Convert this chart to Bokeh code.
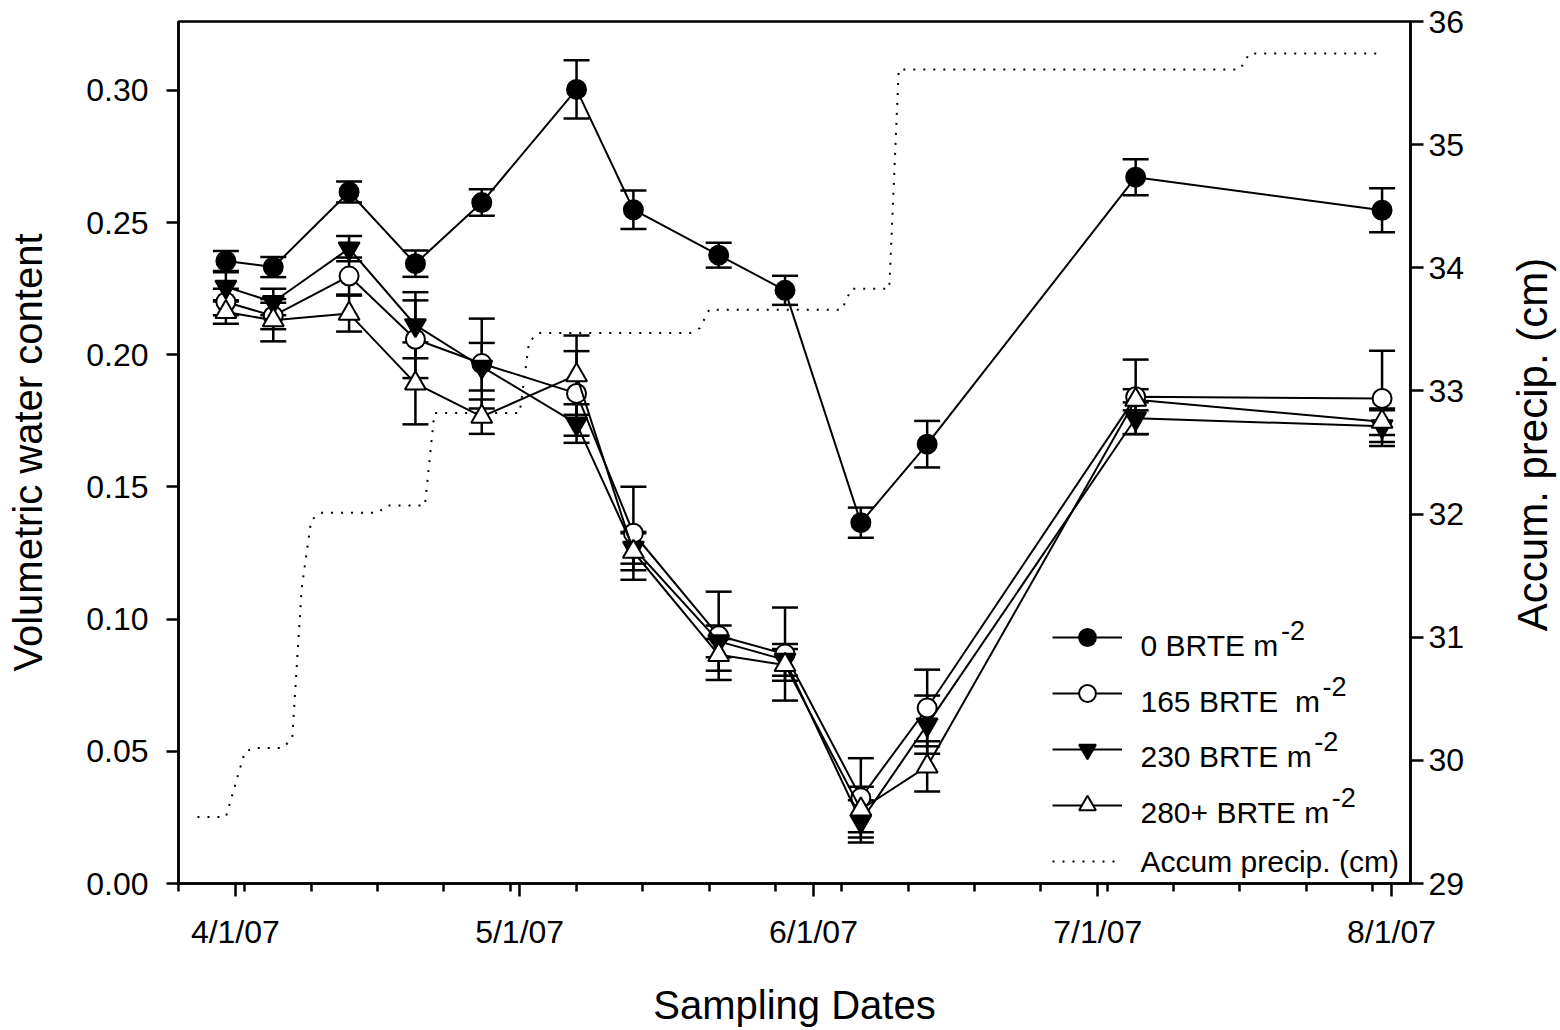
import math
import pandas as pd
from bokeh.plotting import figure
from bokeh.layouts import row
from bokeh.models import (ColumnDataSource, Range1d, LinearAxis, FixedTicker, Whisker, TeeHead,
                          Legend, LegendItem, Label, CustomJSTickFormatter, NumeralTickFormatter)
from bokeh.core.properties import value
from bokeh.embed import file_html
from bokeh.resources import INLINE

FONT = "Liberation Sans"

# ---------------- data ----------------
sample_dates = ["2007-03-31", "2007-04-05", "2007-04-13", "2007-04-20", "2007-04-27", "2007-05-07",
                "2007-05-13", "2007-05-22", "2007-05-29", "2007-06-06", "2007-06-13", "2007-07-05",
                "2007-07-31"]

vwc_0 = [0.2355, 0.2332, 0.2616, 0.2345, 0.2576, 0.3004, 0.2549, 0.2377, 0.2244, 0.1365, 0.1662, 0.2672, 0.2547]
err_0 = [0.0038, 0.0038, 0.0040, 0.0050, 0.0050, 0.0110, 0.0073, 0.0047, 0.0055, 0.0057, 0.0088, 0.0068, 0.0083]

vwc_165 = [0.2200, 0.2147, 0.2298, 0.2059, 0.1967, 0.1854, 0.1325, 0.0937, 0.0868, 0.0324, 0.0664, 0.1841, 0.1835]
err_165 = [0.0050, 0.0050, 0.0070, 0.0147, 0.0170, 0.0160, 0.0176, 0.0167, 0.0176, 0.0150, 0.0145, 0.0141, 0.0180]

vwc_230 = [0.2257, 0.2200, 0.2402, 0.2112, 0.1955, 0.1740, 0.1270, 0.0916, 0.0846, 0.0235, 0.0601, 0.1760, 0.1730]
err_230 = [0.0055, 0.0050, 0.0048, 0.0125, 0.0090, 0.0073, 0.0060, 0.0060, 0.0060, 0.0080, 0.0110, 0.0060, 0.0060]

vwc_280 = [0.2162, 0.2131, 0.2156, 0.1892, 0.1766, 0.1923, 0.1255, 0.0865, 0.0827, 0.0280, 0.0443, 0.1830, 0.1747]
err_280 = [0.0044, 0.0080, 0.0068, 0.0155, 0.0065, 0.0150, 0.0070, 0.0060, 0.0060, 0.0086, 0.0095, 0.0040, 0.0050]

precip_dates = ["2007-03-28", "2007-03-31", "2007-04-02", "2007-04-03", "2007-04-06", "2007-04-07",
                "2007-04-08", "2007-04-09", "2007-04-10", "2007-04-16", "2007-04-17", "2007-04-21",
                "2007-04-22", "2007-05-01", "2007-05-02", "2007-05-03", "2007-05-19", "2007-05-20",
                "2007-05-21", "2007-06-04", "2007-06-05", "2007-06-09", "2007-06-10", "2007-07-16",
                "2007-07-17", "2007-07-31"]
precip_cm = [29.54, 29.54, 30.07, 30.10, 30.10, 30.18, 31.40, 31.95, 32.01, 32.01, 32.07, 32.07,
             32.82, 32.82, 33.40, 33.47, 33.47, 33.51, 33.66, 33.66, 33.83, 33.83, 35.61, 35.61,
             35.74, 35.74]

month_ticks = ["2007-04-01", "2007-05-01", "2007-06-01", "2007-07-01", "2007-08-01"]
month_labels = ["4/1/07", "5/1/07", "6/1/07", "7/1/07", "8/1/07"]
vwc_ticks = [0.0, 0.05, 0.10, 0.15, 0.20, 0.25, 0.30]
precip_ticks = [29, 30, 31, 32, 33, 34, 35, 36]

series_names = ["0 BRTE m", "165 BRTE\u00a0 m", "230 BRTE m", "280+ BRTE m"]
precip_name = "Accum precip. (cm)"
right_title = "Accum. precip. (cm)"

# ---------------- main figure ----------------
x_start = pd.Timestamp("2007-03-26")
x_end = pd.Timestamp("2007-08-03")

p = figure(frame_width=1232, frame_height=862, x_axis_type="datetime",
           x_range=Range1d(x_start, x_end), y_range=Range1d(0, 0.3261),
           output_backend="svg", toolbar_location=None,
           min_border_left=178, min_border_right=55, min_border_top=21, min_border_bottom=145)
p.xgrid.visible = False
p.ygrid.visible = False
p.outline_line_color = "black"
p.outline_line_width = 2.5
p.background_fill_color = "white"
p.border_fill_color = "white"

p.extra_y_ranges = {"precip": Range1d(29, 36)}

x_dates = pd.to_datetime(sample_dates)

def ms(d):
    return pd.Timestamp(d).timestamp() * 1000.0

major_ms = [ms(d) for d in month_ticks]
minor_ms = [ms(d) for d in pd.date_range("2007-03-26", "2007-08-02", freq="W-MON")]

# precipitation (dotted)
prec_src = ColumnDataSource(dict(x=pd.to_datetime(precip_dates), y=precip_cm))
r_prec = p.line("x", "y", source=prec_src, y_range_name="precip", line_color="black",
                line_width=2, line_dash="2 8")

# series
styles = [
    dict(marker="circle", size=19, fill_color="black"),
    dict(marker="circle", size=19, fill_color="white"),
    dict(marker="inverted_triangle", size=21, fill_color="black"),
    dict(marker="triangle", size=21, fill_color="white"),
]
vals = [vwc_0, vwc_165, vwc_230, vwc_280]
errs = [err_0, err_165, err_230, err_280]

items = []
for v, e, st in zip(vals, errs, styles):
    src = ColumnDataSource(dict(x=x_dates, y=v,
                                up=[a + b for a, b in zip(v, e)],
                                lo=[a - b for a, b in zip(v, e)]))
    w = Whisker(source=src, base="x", upper="up", lower="lo", line_color="black", line_width=2.5,
                upper_head=TeeHead(size=26, line_color="black", line_width=2.5),
                lower_head=TeeHead(size=26, line_color="black", line_width=2.5),
                level="underlay")
    p.add_layout(w)
    rl = p.line("x", "y", source=src, line_color="black", line_width=2)
    rs = p.scatter("x", "y", source=src, marker=st["marker"], size=st["size"],
                   fill_color=st["fill_color"], line_color="black", line_width=2)
    items.append(LegendItem(label=value(""), renderers=[rl, rs]))
items.append(LegendItem(label=value(""), renderers=[r_prec]))

legend = Legend(items=items, location=(874, 1), glyph_width=70, glyph_height=42,
                label_height=42, label_width=0, spacing=14, padding=0, margin=0,
                label_standoff=0, border_line_alpha=0, background_fill_alpha=0)
p.add_layout(legend)

# legend texts (with superscripts)
text_x = 962
base_y = [238, 182.5, 127, 71.5, 22.5]
main_w = [138.4, 180.1, 171.7, 189.2]
for i, name in enumerate(series_names + [precip_name]):
    p.add_layout(Label(x=text_x, y=base_y[i], x_units="screen", y_units="screen", text=name,
                       text_font=FONT, text_font_size="30px", text_color="black",
                       text_baseline="alphabetic", text_align="left"))
    if i < 4:
        p.add_layout(Label(x=text_x + main_w[i] + 2, y=base_y[i] + 15, x_units="screen",
                           y_units="screen", text="-2", text_font=FONT, text_font_size="27px",
                           text_color="black", text_baseline="alphabetic", text_align="left"))

# ---------------- axes ----------------
xa = p.xaxis[0]
xa.ticker = FixedTicker(ticks=major_ms, minor_ticks=minor_ms)
xa.formatter = CustomJSTickFormatter(args=dict(month_ms=major_ms, month_txt=month_labels),
                                     code="const i = month_ms.indexOf(tick); return i >= 0 ? month_txt[i] : '';")
xa.axis_label = "Sampling Dates"
xa.major_tick_out = 13
xa.minor_tick_out = 8
xa.major_label_standoff = 17
xa.axis_label_standoff = 30

ya = p.yaxis[0]
ya.ticker = FixedTicker(ticks=vwc_ticks, minor_ticks=[])
ya.formatter = NumeralTickFormatter(format="0.00")
ya.axis_label = "Volumetric water content"
ya.major_tick_out = 12
ya.major_label_standoff = 18
ya.axis_label_standoff = 33
ya.minor_tick_line_color = None

ra = LinearAxis(y_range_name="precip", ticker=FixedTicker(ticks=precip_ticks, minor_ticks=[]))
ra.major_tick_out = 13
ra.major_label_standoff = 5
ra.minor_tick_line_color = None
p.add_layout(ra, "right")

for ax in [xa, ya, ra]:
    ax.axis_line_width = 2.5
    ax.axis_line_color = "black"
    ax.major_tick_line_width = 2.5
    ax.minor_tick_line_width = 2.5
    ax.major_tick_line_color = "black"
    ax.major_tick_in = 0
    ax.minor_tick_in = 0
    ax.major_label_text_font = FONT
    ax.major_label_text_font_size = "32px"
    ax.major_label_text_color = "black"
    ax.axis_label_text_font = FONT
    ax.axis_label_text_font_size = "40px"
    ax.axis_label_text_font_style = "normal"
    ax.axis_label_text_color = "black"
xa.minor_tick_line_color = "black"

# ---------------- narrow strip holding the right-hand axis title ----------------
p2 = figure(width=93, height=1028, output_backend="svg", toolbar_location=None,
            x_axis_location=None, y_axis_location=None, min_border=0,
            x_range=Range1d(0, 1), y_range=Range1d(0, 1))
p2.xgrid.visible = False
p2.ygrid.visible = False
p2.outline_line_color = None
p2.background_fill_color = "white"
p2.border_fill_color = "white"
p2.add_layout(Label(x=65, y=438, x_units="screen", y_units="screen", text=right_title,
                    angle=math.pi / 2, text_font=FONT, text_font_size="42px", text_color="black",
                    text_align="center", text_baseline="middle"))

layout = row(p, p2, spacing=0)
open("out.html", "w").write(file_html(layout, INLINE))
